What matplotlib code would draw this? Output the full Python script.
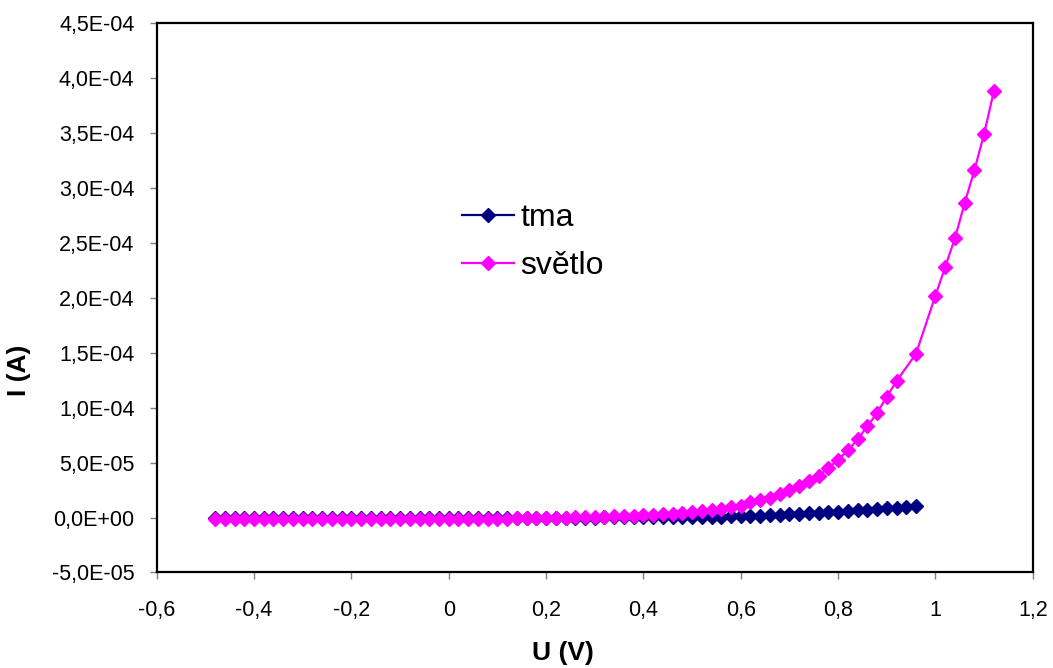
import matplotlib
matplotlib.use("Agg")
import matplotlib.pyplot as plt
import numpy as np

plt.rcParams['font.family'] = ['Liberation Sans', 'DejaVu Sans']

# napeti (V)
u_tma = [-0.48, -0.46, -0.44, -0.42, -0.40, -0.38, -0.36, -0.34, -0.32, -0.30,
         -0.28, -0.26, -0.24, -0.22, -0.20, -0.18, -0.16, -0.14, -0.12, -0.10,
         -0.08, -0.06, -0.04, -0.02, 0.00, 0.02, 0.04, 0.06, 0.08, 0.10,
         0.12, 0.14, 0.16, 0.18, 0.20, 0.22, 0.24, 0.26, 0.28, 0.30,
         0.32, 0.34, 0.36, 0.38, 0.40, 0.42, 0.44, 0.46, 0.48, 0.50,
         0.52, 0.54, 0.56, 0.58, 0.60, 0.62, 0.64, 0.66, 0.68, 0.70,
         0.72, 0.74, 0.76, 0.78, 0.80, 0.82, 0.84, 0.86, 0.88, 0.90,
         0.92, 0.94, 0.96]
# proud ve tme (uA)
i_tma = [-0.40, -0.40, -0.38, -0.37, -0.36, -0.35, -0.34, -0.33, -0.32, -0.31,
         -0.30, -0.29, -0.28, -0.27, -0.26, -0.25, -0.24, -0.22, -0.20, -0.19,
         -0.17, -0.15, -0.13, -0.11, -0.10, -0.08, -0.06, -0.05, -0.04, -0.03,
         -0.02, -0.01, 0.00, 0.00, 0.005, 0.01, 0.01, 0.015, 0.02, 0.02,
         0.025, 0.03, 0.035, 0.04, 0.10, 0.15, 0.20, 0.30, 0.40, 0.50,
         0.60, 0.70, 0.85, 1.0, 1.2, 1.5, 1.8, 2.1, 2.5, 2.9,
         3.3, 3.8, 4.3, 4.8, 5.3, 5.9, 6.5, 7.1, 7.7, 8.4,
         9.1, 9.9, 10.6]

u_svetlo = [-0.48, -0.46, -0.44, -0.42, -0.40, -0.38, -0.36, -0.34, -0.32, -0.30,
            -0.28, -0.26, -0.24, -0.22, -0.20, -0.18, -0.16, -0.14, -0.12, -0.10,
            -0.08, -0.06, -0.04, -0.02, 0.00, 0.02, 0.04, 0.06, 0.08, 0.10,
            0.12, 0.14, 0.16, 0.18, 0.20, 0.22, 0.24, 0.26, 0.28, 0.30,
            0.32, 0.34, 0.36, 0.38, 0.40, 0.42, 0.44, 0.46, 0.48, 0.50,
            0.52, 0.54, 0.56, 0.58, 0.60, 0.62, 0.64, 0.66, 0.68, 0.70,
            0.72, 0.74, 0.76, 0.78, 0.80, 0.82, 0.84, 0.86, 0.88, 0.90,
            0.92, 0.96, 1.00, 1.02, 1.04, 1.06, 1.08, 1.10, 1.12]
# proud pri osvetleni (uA)
i_svetlo = [-1.6, -1.6, -1.6, -1.6, -1.6, -1.5, -1.5, -1.5, -1.5, -1.5,
            -1.5, -1.4, -1.4, -1.4, -1.4, -1.4, -1.4, -1.4, -1.3, -1.3,
            -1.3, -1.3, -1.3, -1.3, -1.3, -1.3, -1.2, -1.2, -1.1, -1.0,
            -0.9, -0.8, -0.7, -0.5, -0.4, -0.2, 0.0, 0.2, 0.4, 0.6,
            0.8, 1.0, 1.2, 1.5, 2.1, 2.4, 3.0, 3.6, 4.3, 5.2,
            5.7, 6.6, 7.9, 9.3, 10.9, 13.9, 15.7, 18.1, 21.1, 24.8,
            28.4, 33.3, 38.1, 45.1, 52.6, 61.0, 71.0, 83.0, 95.0, 110.0,
            124.0, 149.0, 202.0, 228.0, 254.0, 286.0, 316.0, 349.0, 388.0]

x_ticks = [-0.6, -0.4, -0.2, 0, 0.2, 0.4, 0.6, 0.8, 1, 1.2]
x_labels = ['-0,6', '-0,4', '-0,2', '0', '0,2', '0,4', '0,6', '0,8', '1', '1,2']
y_ticks = [-5e-5, 0, 5e-5, 1e-4, 1.5e-4, 2e-4, 2.5e-4, 3e-4, 3.5e-4, 4e-4, 4.5e-4]
y_labels = ['-5,0E-05', '0,0E+00', '5,0E-05', '1,0E-04', '1,5E-04', '2,0E-04',
            '2,5E-04', '3,0E-04', '3,5E-04', '4,0E-04', '4,5E-04']

fig = plt.figure(figsize=(10.53, 6.68), dpi=100)
ax = fig.add_axes([0.1488, 0.143, 0.832, 0.8226])

ax.plot(u_tma, np.array(i_tma) * 1e-6, color='#000080', lw=1.6,
        marker='D', ms=7, label='tma')
ax.plot(u_svetlo, np.array(i_svetlo) * 1e-6, color='#FF00FF', lw=1.6,
        marker='D', ms=7, label='světlo')

ax.set_xlim(-0.6, 1.2)
ax.set_ylim(-5e-5, 4.5e-4)
ax.set_xticks(x_ticks)
ax.set_xticklabels(x_labels)
ax.set_yticks(y_ticks)
ax.set_yticklabels(y_labels)
ax.tick_params(direction='out', length=5, width=1, color='gray',
               labelsize=15.5)
ax.tick_params(axis='x', pad=15)
ax.tick_params(axis='y', pad=11)

for s in ax.spines.values():
    s.set_linewidth(1.6)
    s.set_color('black')

ax.set_xlabel('U (V)', fontsize=19, fontweight='bold')
ax.set_ylabel('I (A)', fontsize=19, fontweight='bold')
ax.xaxis.set_label_coords(0.464, -0.124)
ax.yaxis.set_label_coords(-0.1435, 0.368)

ax.legend(loc='upper left', bbox_to_anchor=(0.348, 0.672), frameon=False,
          fontsize=23, handlelength=1.65, handletextpad=0.2, labelspacing=0.55,
          borderpad=0, borderaxespad=0)

plt.savefig('out.png', dpi=100)
